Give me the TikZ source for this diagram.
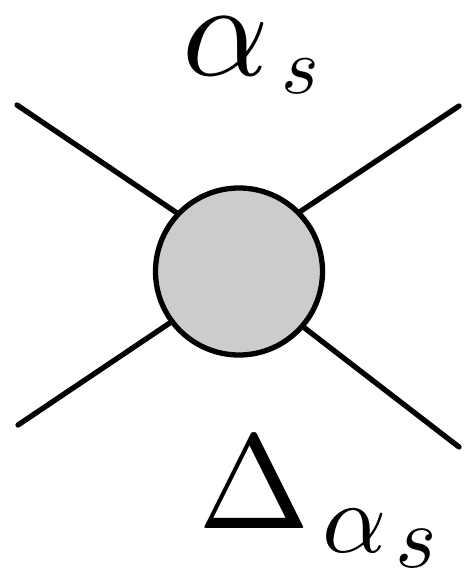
\documentclass[tikz,border=0pt]{standalone}
\begin{document}
\begin{tikzpicture}[x=1pt,y=-1pt,
  leg/.style={line width=5.3pt,line cap=round},
  blob/.style={circle,draw,line width=5.3pt,fill=black!20,minimum size=167pt,inner sep=0pt},
  glyph/.style={inner sep=0pt,anchor=center}]
\useasboundingbox (0,0) rectangle (465,572);
\coordinate (ul) at (17,105);
\coordinate (ur) at (459,106);
\coordinate (ll) at (18,425);
\coordinate (lr) at (459,447);
\coordinate (uli) at (200,228.5);
\coordinate (uri) at (280,225);
\coordinate (lli) at (200,302.7);
\coordinate (lri) at (280,309);
\draw[leg] (ul) -- (uli);
\draw[leg] (ur) -- (uri);
\draw[leg] (ll) -- (lli);
\draw[leg] (lr) -- (lri);
\node[blob] (c) at (239,271.5) {};
\node[glyph,scale=13.5] (a1) at (226,46) {$\alpha$};
\node[glyph,scale=8] (s1) at (300,76) {$s$};
\node[glyph,scale=13.4] (D) at (254,483) {$\Delta$};
\node[glyph,scale=10] (a2) at (355,531) {$\alpha$};
\node[glyph,scale=8.8] (s2) at (416,549) {$s$};
\end{tikzpicture}
\end{document}
